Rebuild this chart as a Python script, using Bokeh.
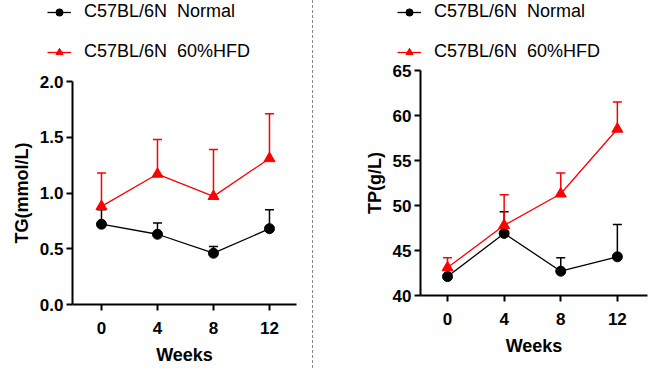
from bokeh.plotting import figure
from bokeh.models import (ColumnDataSource, Whisker, TeeHead, Legend, LegendItem,
                          FixedTicker, NumeralTickFormatter, Range1d, Div)
from bokeh.layouts import row, column
from bokeh.embed import file_html
from bokeh.resources import INLINE

weeks = [0, 4, 8, 12]
week_ticks = [0, 4, 8, 12]

# TG (mmol/L)
tg_normal = [0.72, 0.63, 0.46, 0.68]
tg_normal_err = [0.13, 0.10, 0.06, 0.17]
tg_hfd = [0.88, 1.17, 0.97, 1.31]
tg_hfd_err = [0.30, 0.31, 0.42, 0.40]
tg_ticks = [0.0, 0.5, 1.0, 1.5, 2.0]

# TP (g/L)
tp_normal = [42.1, 46.9, 42.7, 44.3]
tp_normal_err = [0.8, 2.4, 1.5, 3.6]
tp_hfd = [43.1, 47.8, 51.3, 58.5]
tp_hfd_err = [1.1, 3.4, 2.3, 3.0]
tp_ticks = [40, 45, 50, 55, 60, 65]

labels = ["C57BL/6N  Normal", "C57BL/6N  60%HFD"]
colors = ["black", "#FF0000"]
markers = ["circle", "triangle"]
marker_sizes = [10, 11]

FONT = "Liberation Sans"
H = 368
LEG_H = 62


def style_axes(p):
    for ax in (p.xaxis[0], p.yaxis[0]):
        ax.axis_line_width = 2
        ax.axis_line_color = "black"
        ax.major_tick_line_width = 2
        ax.major_tick_line_color = "black"
        ax.major_tick_out = 6
        ax.major_tick_in = 0
        ax.minor_tick_line_color = None
        ax.major_label_text_font = FONT
        ax.major_label_text_font_style = "bold"
        ax.major_label_text_font_size = "17px"
        ax.major_label_text_color = "black"
        ax.axis_label_text_font = FONT
        ax.axis_label_text_font_style = "bold"
        ax.axis_label_text_font_size = "18px"
        ax.axis_label_text_color = "black"
    p.xaxis[0].major_label_standoff = 11
    p.xaxis[0].axis_label_standoff = 8
    p.yaxis[0].major_label_standoff = 3
    p.yaxis[0].axis_label_standoff = 5
    p.xgrid.grid_line_color = None
    p.ygrid.grid_line_color = None
    p.outline_line_color = None


def add_series(p, x, y, err, i, with_err=True):
    color = colors[i]
    upper = [a + b for a, b in zip(y, err)]
    src = ColumnDataSource(dict(x=x, y=y, upper=upper))
    if with_err:
        w = Whisker(base="x", lower="y", upper="upper", source=src,
                    line_color=color, line_width=1.5,
                    lower_head=None,
                    upper_head=TeeHead(size=9, line_color=color, line_width=1.5))
        p.add_layout(w)
    ln = p.line("x", "y", source=src, line_color=color, line_width=1.3)
    sc = p.scatter("x", "y", source=src, marker=markers[i], size=marker_sizes[i],
                   fill_color=color, line_color=color)
    return [ln, sc]


def make_legend_fig(width, n_y, n_err, h_y, h_err, leg_x):
    # legend panel above the chart; its series lie outside its view
    lf = figure(width=width, height=LEG_H, x_range=Range1d(-100, -99),
                y_range=Range1d(0, 1), output_backend="svg", toolbar_location=None,
                x_axis_type=None, y_axis_type=None,
                min_border_left=0, min_border_right=0,
                min_border_top=0, min_border_bottom=0)
    lf.frame_align = False
    lf.outline_line_color = None
    lf.xgrid.grid_line_color = None
    lf.ygrid.grid_line_color = None
    r1 = add_series(lf, weeks, n_y, n_err, 0, with_err=False)
    r2 = add_series(lf, weeks, h_y, h_err, 1, with_err=False)
    leg = Legend(items=[LegendItem(label=labels[0], renderers=r1),
                        LegendItem(label=labels[1], renderers=r2)],
                 location=(leg_x, 0), orientation="vertical",
                 background_fill_alpha=0, border_line_color=None,
                 padding=0, margin=0, spacing=19,
                 glyph_width=24, glyph_height=18, label_height=18,
                 label_standoff=13, label_text_line_height=1.0,
                 label_text_font=FONT, label_text_font_size="18px",
                 label_text_color="black")
    lf.add_layout(leg, "center")
    return lf


def make_fig(width, height, xr, yr, yticks, ylabel, yfmt, left, right, top, bottom,
             n_y, n_err, h_y, h_err):
    p = figure(width=width, height=height, x_range=Range1d(*xr), y_range=Range1d(*yr),
               output_backend="svg", toolbar_location=None,
               min_border_left=left, min_border_right=right,
               min_border_top=top, min_border_bottom=bottom)
    p.frame_align = False
    p.xaxis.ticker = FixedTicker(ticks=week_ticks)
    p.yaxis.ticker = FixedTicker(ticks=yticks)
    p.yaxis.formatter = NumeralTickFormatter(format=yfmt)
    p.xaxis.axis_label = "Weeks"
    p.yaxis.axis_label = ylabel
    style_axes(p)
    add_series(p, weeks, n_y, n_err, 0)
    add_series(p, weeks, h_y, h_err, 1)
    return p


W1, W2 = 312, 337
lf1 = make_legend_fig(W1, tg_normal, tg_normal_err, tg_hfd, tg_hfd_err, 47)
p1 = make_fig(W1, H - LEG_H, (-2.07, 13.93), (0, 2), tg_ticks, "TG(mmol/L)", "0.0",
              72, 16, 81 - LEG_H, 64,
              tg_normal, tg_normal_err, tg_hfd, tg_hfd_err)
sep = Div(width=1, height=H, margin=0,
          styles={"border-left": "1px dashed #888888", "height": f"{H}px"})
lf2 = make_legend_fig(W2, tp_normal, tp_normal_err, tp_hfd, tp_hfd_err, 84)
p2 = make_fig(W2, H - LEG_H, (-1.91, 14.13), (40, 65), tp_ticks, "TP(g/L)", "0",
              107, 3, 70 - LEG_H, 73,
              tp_normal, tp_normal_err, tp_hfd, tp_hfd_err)

layout = row(column(lf1, p1, spacing=0), sep, column(lf2, p2, spacing=0), spacing=0)
open("out.html", "w").write(file_html(layout, INLINE))
